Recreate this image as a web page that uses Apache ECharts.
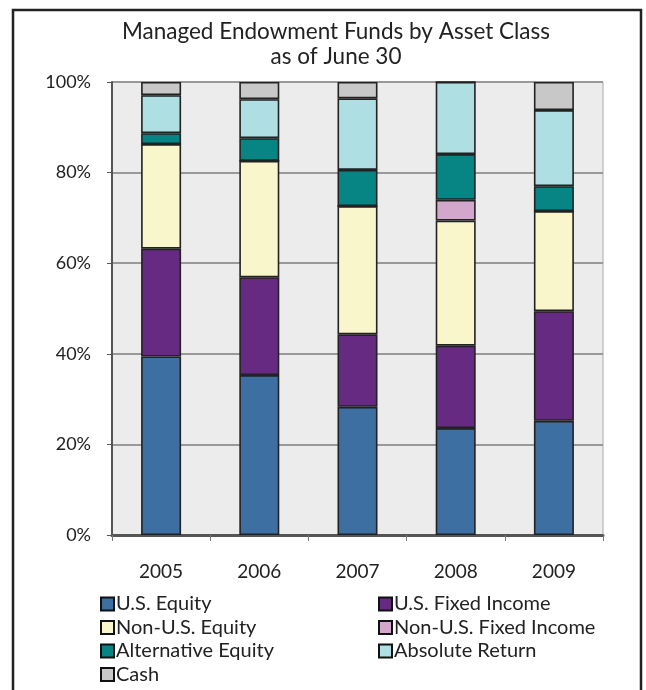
<!DOCTYPE html>
<html>
<head>
<meta charset="utf-8">
<script src="https://cdn.jsdelivr.net/npm/echarts@6/dist/echarts.min.js"></script>
<style>
  html, body { margin: 0; padding: 0; background: #fff; }
  #main { width: 646px; height: 690px; }
</style>
</head>
<body>
<div id="main"></div>
<script>
// years on the x axis
var years = ['2005', '2006', '2007', '2008', '2009'];
// share of the fund, percent
var usEquity      = [39.4, 35.3, 28.3, 23.6, 25.2];
var usFixed       = [23.8, 21.6, 16.0, 18.2, 24.2];
var nonUsEquity   = [23.1, 25.7, 28.3, 27.6, 22.1];
var nonUsFixed    = [0,    0,    0,    4.6,  0];
var altEquity     = [2.4,  5.0,  8.0,  10.1, 5.5];
var absReturn     = [8.4,  8.6,  15.8, 15.9, 16.8];
var cash          = [2.9,  3.8,  3.6,  0,    6.2];

var font = 'Lato, "DejaVu Sans", sans-serif';

function bar(name, data, color) {
    return {
        name: name,
        type: 'bar',
        stack: 'total',
        barWidth: 40,
        data: data,
        itemStyle: { color: color, borderColor: '#222', borderWidth: 1.6 }
    };
}

var myChart = echarts.init(document.getElementById('main'));

var legendStyle = {
    orient: 'vertical',
    top: 594,
    padding: 0,
    itemWidth: 13,
    itemHeight: 13,
    itemGap: 3.5,
    icon: 'rect',
    itemStyle: { borderColor: '#111', borderWidth: 2 },
    textStyle: { fontFamily: font, fontSize: 20, color: '#222', lineHeight: 20, padding: [0, 0, 0, -3] }
};

var option = {
    animation: false,
    backgroundColor: '#fff',
    title: {
        text: 'Managed Endowment Funds by Asset Class\nas of June 30',
        left: 331,
        top: 14,
        textAlign: 'center',
        textStyle: { fontFamily: font, fontSize: 22.5, fontWeight: 'normal', color: '#222', lineHeight: 25 }
    },
    legend: [
        Object.assign({ left: 100, data: ['U.S. Equity', 'Non-U.S. Equity', 'Alternative Equity', 'Cash'] }, legendStyle),
        Object.assign({ left: 378, data: ['U.S. Fixed Income', 'Non-U.S. Fixed Income', 'Absolute Return'] }, legendStyle)
    ],
    grid: {
        left: 112, right: 43, top: 82, bottom: 155,
        show: true,
        backgroundColor: '#ececec',
        borderColor: '#aaa',
        borderWidth: 1
    },
    xAxis: {
        type: 'category',
        data: years,
        axisLine: { lineStyle: { color: '#555', width: 3 } },
        axisTick: { show: true, length: 6, lineStyle: { color: '#777' } },
        axisLabel: { fontFamily: font, fontSize: 19, color: '#222', margin: 27 }
    },
    yAxis: {
        type: 'value',
        min: 0,
        max: 100,
        interval: 20,
        axisLine: { show: true, lineStyle: { color: '#555', width: 2 } },
        axisTick: { show: true, length: 5, lineStyle: { color: '#555' } },
        axisLabel: { formatter: '{value}%', fontFamily: font, fontSize: 18, color: '#222', margin: 21 },
        splitLine: { lineStyle: { color: '#999', width: 2 } }
    },
    series: [
        bar('U.S. Equity', usEquity, '#3d6fa3'),
        bar('U.S. Fixed Income', usFixed, '#672a82'),
        bar('Non-U.S. Equity', nonUsEquity, '#faf6cc'),
        bar('Non-U.S. Fixed Income', nonUsFixed, '#d3a6cc'),
        bar('Alternative Equity', altEquity, '#078585'),
        bar('Absolute Return', absReturn, '#aedfe3'),
        bar('Cash', cash, '#c8c8c8')
    ],
    graphic: [{
        type: 'rect',
        shape: { x: 13, y: 10, width: 628, height: 700 },
        style: { fill: 'none', stroke: '#222', lineWidth: 2.5 },
        silent: true
    }]
};

myChart.setOption(option);
</script>
</body>
</html>
